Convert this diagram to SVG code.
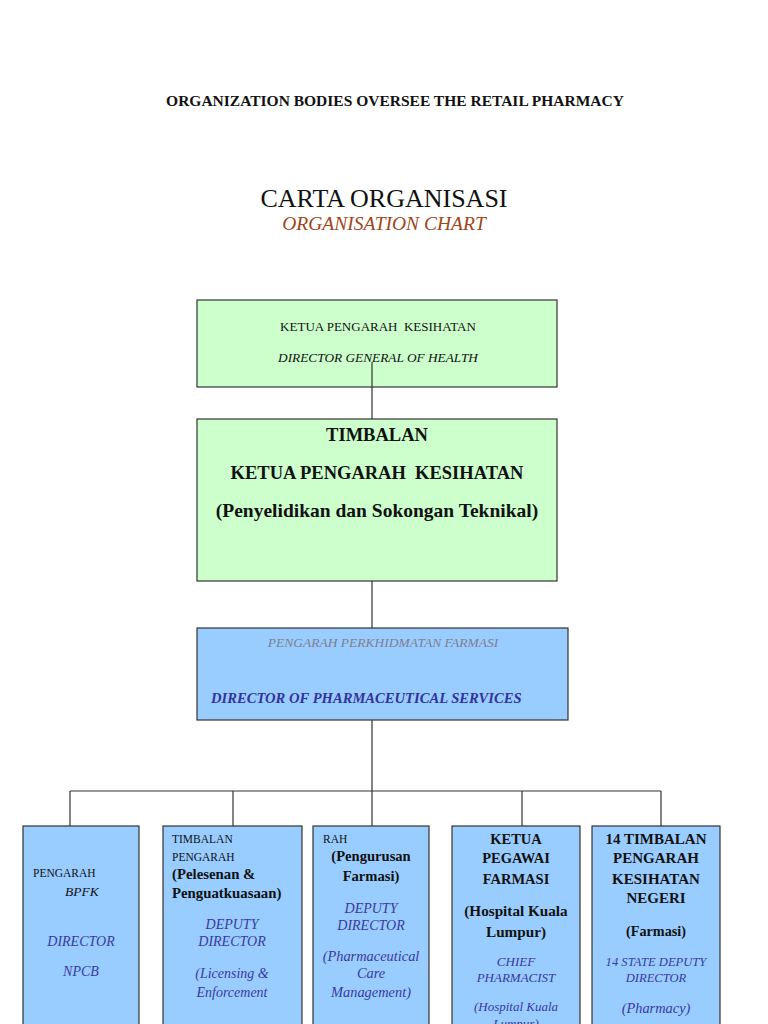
<svg xmlns="http://www.w3.org/2000/svg" width="768" height="1024" viewBox="0 0 768 1024">
<style>
.s{font-family:"Liberation Serif","Times New Roman",serif;white-space:pre;}
.c{text-anchor:middle;}
.b{font-weight:bold;}
.i{font-style:italic;}
.g{fill:#ccffcc;stroke:#333333;stroke-width:1.2;}
.bl{fill:#99ccff;stroke:#333333;stroke-width:1.2;}
.k{fill:#111111;}
.bt{fill:#3a3a9e;}
.ln{stroke:#333333;stroke-width:1.2;fill:none;}
</style>
<rect width="768" height="1024" fill="#ffffff"/>
<text class="s b k c" x="395" y="106" font-size="15.5">ORGANIZATION BODIES OVERSEE THE RETAIL PHARMACY</text>
<text class="s k c" x="384" y="207" font-size="26">CARTA ORGANISASI</text>
<text class="s i c" x="384" y="230" font-size="19.5" fill="#a0461a">ORGANISATION CHART</text>

<g id="connectors">
<path class="ln" d="M372 362V419M372 581V628M372 720V826M70 791H661M70 791V826M233 791V826M522 791V826M661 791V826"/>
</g>

<g id="dg">
<rect class="g" x="197" y="300" width="360" height="87"/>
<text class="s k c" x="378" y="331" font-size="13">KETUA PENGARAH  KESIHATAN</text>
<text class="s k c i" x="378" y="362" font-size="13.3">DIRECTOR GENERAL OF HEALTH</text>
</g>
<path class="ln" d="M372 362V387"/>

<g id="tkp">
<rect class="g" x="197" y="419" width="360" height="162"/>
<text class="s k c b" x="377" y="441" font-size="18.5">TIMBALAN</text>
<text class="s k c b" x="377" y="479" font-size="18.5">KETUA PENGARAH  KESIHATAN</text>
<text class="s k c b" x="377" y="517" font-size="19.5">(Penyelidikan dan Sokongan Teknikal)</text>
</g>

<g id="dps">
<rect class="bl" x="197" y="628" width="371" height="92"/>
<text class="s c i" x="383" y="647" font-size="13.5" fill="#7f7f8f">PENGARAH PERKHIDMATAN FARMASI</text>
<text class="s i b" x="211" y="703" font-size="14.6" fill="#333399">DIRECTOR OF PHARMACEUTICAL SERVICES</text>
</g>

<g id="bpfk">
<rect class="bl" x="23" y="826" width="116" height="210"/>
<text class="s k" x="33" y="877" font-size="11.5">PENGARAH</text>
<text class="s k i" x="65" y="896" font-size="13.5">BPFK</text>
<text class="s bt i c" x="81" y="946" font-size="14">DIRECTOR</text>
<text class="s bt i c" x="81" y="976" font-size="14">NPCB</text>
</g>

<g id="licensing">
<rect class="bl" x="163" y="826" width="139" height="210"/>
<text class="s k" x="172" y="843" font-size="11.5">TIMBALAN</text>
<text class="s k" x="172" y="861" font-size="11.5">PENGARAH</text>
<text class="s k b" x="172" y="879" font-size="14.8">(Pelesenan &amp;</text>
<text class="s k b" x="172" y="898" font-size="14.8">Penguatkuasaan)</text>
<text class="s bt i c" x="232" y="929" font-size="14">DEPUTY</text>
<text class="s bt i c" x="232" y="946" font-size="14">DIRECTOR</text>
<text class="s bt i c" x="232" y="978" font-size="14">(Licensing &amp;</text>
<text class="s bt i c" x="232" y="997" font-size="14">Enforcement</text>
</g>

<g id="pcm">
<rect class="bl" x="313" y="826" width="116" height="210"/>
<text class="s k" x="323" y="843" font-size="11.5">RAH</text>
<text class="s k b c" x="371" y="861" font-size="14.6">(Pengurusan</text>
<text class="s k b c" x="371" y="881" font-size="14.6">Farmasi)</text>
<text class="s bt i c" x="371" y="913" font-size="14">DEPUTY</text>
<text class="s bt i c" x="371" y="930" font-size="14">DIRECTOR</text>
<text class="s bt i c" x="371" y="961" font-size="14.4">(Pharmaceutical</text>
<text class="s bt i c" x="371" y="978" font-size="14.4">Care</text>
<text class="s bt i c" x="371" y="997" font-size="14.4">Management)</text>
</g>

<g id="hkl">
<rect class="bl" x="452" y="826" width="128" height="210"/>
<text class="s k b c" x="516" y="844" font-size="14.5">KETUA</text>
<text class="s k b c" x="516" y="863" font-size="14.5">PEGAWAI</text>
<text class="s k b c" x="516" y="884" font-size="14.5">FARMASI</text>
<text class="s k b c" x="516" y="916" font-size="15.2">(Hospital Kuala</text>
<text class="s k b c" x="516" y="937" font-size="15.2">Lumpur)</text>
<text class="s bt i c" x="516" y="966" font-size="13">CHIEF</text>
<text class="s bt i c" x="516" y="982" font-size="13">PHARMACIST</text>
<text class="s bt i c" x="516" y="1011" font-size="13">(Hospital Kuala</text>
<text class="s bt i c" x="516" y="1028" font-size="13">Lumpur)</text>
</g>

<g id="state">
<rect class="bl" x="592" y="826" width="128" height="210"/>
<text class="s k b c" x="656" y="844" font-size="15">14 TIMBALAN</text>
<text class="s k b c" x="656" y="863" font-size="15">PENGARAH</text>
<text class="s k b c" x="656" y="884" font-size="15">KESIHATAN</text>
<text class="s k b c" x="656" y="903" font-size="15">NEGERI</text>
<text class="s k b c" x="656" y="936" font-size="14.2">(Farmasi)</text>
<text class="s bt i c" x="656" y="966" font-size="12.6">14 STATE DEPUTY</text>
<text class="s bt i c" x="656" y="982" font-size="12.6">DIRECTOR</text>
<text class="s bt i c" x="656" y="1013" font-size="14.4">(Pharmacy)</text>
</g>
</svg>
